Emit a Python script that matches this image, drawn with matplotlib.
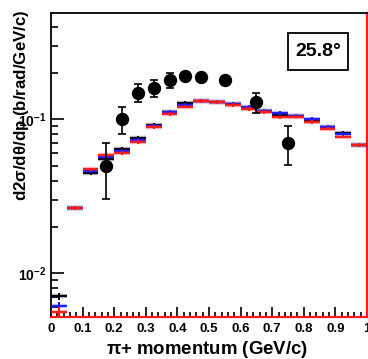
import numpy as np
import matplotlib
matplotlib.use("Agg")
import matplotlib.pyplot as plt
from matplotlib.patches import Rectangle
from matplotlib.ticker import FixedLocator, NullFormatter, FixedFormatter

plt.rcParams['font.family'] = ['Liberation Sans', 'DejaVu Sans']
plt.rcParams['mathtext.fontset'] = 'custom'
plt.rcParams['mathtext.rm'] = 'Liberation Sans'
plt.rcParams['mathtext.bf'] = 'Liberation Sans:bold'
plt.rcParams['mathtext.default'] = 'regular'

# Momentum bins (GeV/c) for the simulated spectra
bin_lo = [0.00, 0.05, 0.10, 0.15, 0.20, 0.25, 0.30, 0.35, 0.40, 0.45,
          0.50, 0.55, 0.60, 0.65, 0.70, 0.75, 0.80, 0.85, 0.90, 0.95]
bin_width = 0.05

# Three model predictions (b/rad/GeV/c)
model_black = [0.0071, 0.0267, 0.0446, 0.0556, 0.0645, 0.0754, 0.0920, 0.1110,
               0.1285, 0.1315, 0.1294, 0.1256, 0.1180, 0.1140, 0.1060, 0.1050,
               0.0980, 0.0890, 0.0820, 0.0679]
model_blue = [0.0061, 0.0267, 0.0460, 0.0570, 0.0620, 0.0735, 0.0910, 0.1120,
              0.1240, 0.1315, 0.1294, 0.1256, 0.1200, 0.1140, 0.1097, 0.1050,
              0.1008, 0.0890, 0.0805, 0.0679]
model_red = [0.0056, 0.0267, 0.0473, 0.0587, 0.0605, 0.0716, 0.0894, 0.1080,
             0.1210, 0.1310, 0.1290, 0.1240, 0.1170, 0.1120, 0.1027, 0.1040,
             0.0960, 0.0870, 0.0773, 0.0679]
model_err = [0.0004, 0.0008, 0.0012, 0.0015, 0.0017, 0.0020, 0.0025, 0.0030,
             0.0035, 0.0035, 0.0035, 0.0034, 0.0032, 0.0031, 0.0029, 0.0028,
             0.0027, 0.0024, 0.0022, 0.0019]

# Measured cross section
data_p = [0.175, 0.225, 0.275, 0.325, 0.375, 0.425, 0.475, 0.55, 0.65, 0.75]
data_xs = [0.050, 0.100, 0.148, 0.160, 0.181, 0.190, 0.189, 0.181, 0.130, 0.070]
data_err_lo = [0.0197, 0.020, 0.019, 0.020, 0.021, 0.008, 0.008, 0.008, 0.020, 0.0194]
data_err_hi = [0.020, 0.020, 0.022, 0.019, 0.019, 0.008, 0.008, 0.008, 0.018, 0.020]

angle_label = "25.8°"
x_ticks = [0.0, 0.1, 0.2, 0.3, 0.4, 0.5, 0.6, 0.7, 0.8, 0.9, 1.0]
x_tick_labels = ["0", "0.1", "0.2", "0.3", "0.4", "0.5", "0.6", "0.7", "0.8", "0.9", "1"]

fig = plt.figure(figsize=(3.68, 3.59), dpi=100)
ax = fig.add_axes([51 / 368, 42 / 359, 316 / 368, 304 / 359])

centers = np.array(bin_lo) + bin_width / 2
for vals, col, z in [(model_black, 'black', 3), (model_blue, '#1a1aff', 4), (model_red, '#ff1a1a', 5)]:
    # soft halo underneath each bin marker
    ax.errorbar(centers, vals, xerr=bin_width / 2, fmt='none', ecolor=col,
                elinewidth=3.2, alpha=0.3, zorder=z)
    ax.errorbar(centers, vals, xerr=bin_width / 2, yerr=model_err, fmt='none',
                ecolor=col, elinewidth=1.4, zorder=z + 0.1)

ax.errorbar(data_p, data_xs, yerr=[data_err_lo, data_err_hi], fmt='o', color='black',
            markersize=8.6, elinewidth=1.2, capsize=2.8, capthick=1.2, zorder=10)

ax.set_yscale('log')
ax.set_xlim(0, 1)
ax.set_ylim(0.0052, 0.49)

ax.xaxis.set_major_locator(FixedLocator(x_ticks))
ax.xaxis.set_major_formatter(FixedFormatter(x_tick_labels))
ax.xaxis.set_minor_locator(FixedLocator(np.arange(0, 1.001, 0.02)))
ax.yaxis.set_major_locator(FixedLocator([0.01, 0.1]))
ax.yaxis.set_major_formatter(FixedFormatter([r'$\mathbf{10^{-2}}$', r'$\mathbf{10^{-1}}$']))
minor_y = [m * d for d in (0.001, 0.01, 0.1) for m in range(2, 10)]
ax.yaxis.set_minor_locator(FixedLocator(minor_y))
ax.yaxis.set_minor_formatter(NullFormatter())

ax.tick_params(axis='both', which='both', direction='in', top=False, right=False,
               width=1.2, colors='black')
ax.tick_params(axis='x', which='major', length=7, labelsize=9.5, pad=4)
ax.tick_params(axis='x', which='minor', length=3.5)
ax.tick_params(axis='y', which='major', length=9, labelsize=10, pad=3)
ax.tick_params(axis='y', which='minor', length=5)
for lab in ax.get_xticklabels():
    lab.set_fontweight('bold')

for side in ('left', 'top'):
    ax.spines[side].set_linewidth(1.3)
    ax.spines[side].set_color('black')
for side in ('right', 'bottom'):
    ax.spines[side].set_linewidth(1.6)
    ax.spines[side].set_color('#ff1a1a')

ax.set_xlabel(r'$\pi$+ momentum (GeV/c)', fontsize=13.4, fontweight='bold')
ax.xaxis.set_label_coords(0.494, -0.072)
ax.set_ylabel(r'd2$\sigma$/d$\theta$/dp (b/rad/GeV/c)', fontsize=12.2, fontweight='bold',
              ha='right', va='center')
ax.yaxis.set_label_coords(-0.092, 1.01)

ax.add_patch(Rectangle((0.750, 0.8125), 0.19, 0.1215, transform=ax.transAxes,
                       facecolor='white', edgecolor='black', linewidth=1.3, zorder=12))
ax.text(0.845, 0.873, angle_label, transform=ax.transAxes, fontsize=14,
        fontweight='bold', ha='center', va='center', zorder=13)

fig.savefig('out.png', dpi=100)
